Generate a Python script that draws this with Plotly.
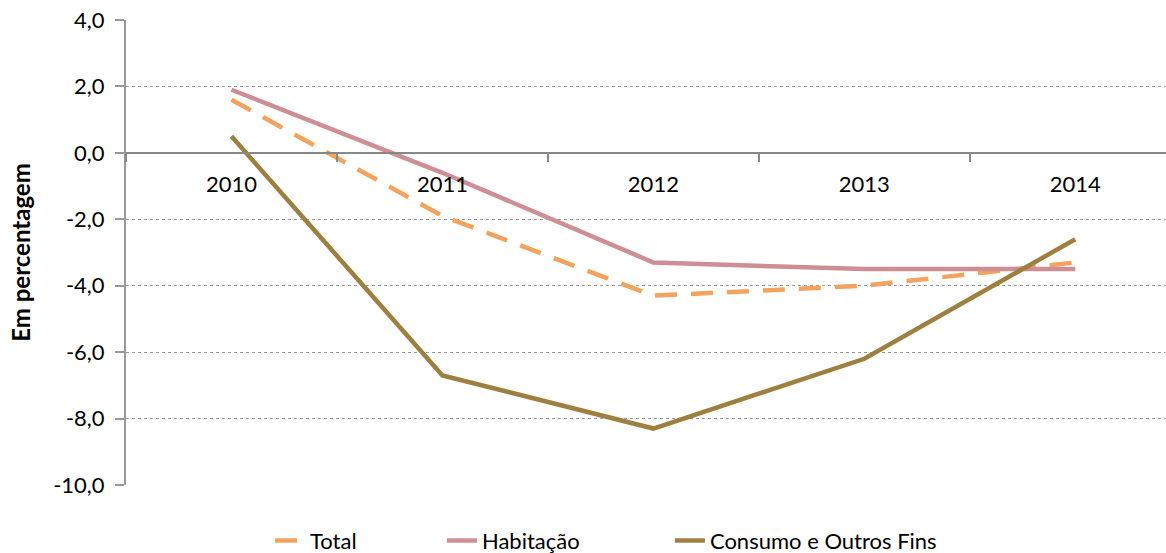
import plotly.graph_objects as go

years = ["2010", "2011", "2012", "2013", "2014"]
total = [1.6, -1.9, -4.3, -4.0, -3.3]
habitacao = [1.9, -0.6, -3.3, -3.5, -3.5]
consumo = [0.5, -6.7, -8.3, -6.2, -2.6]
y_ticks = [4, 2, 0, -2, -4, -6, -8, -10]
y_tick_labels = ["4,0", "2,0", "0,0", "-2,0", "-4,0", "-6,0", "-8,0", "-10,0"]

fig = go.Figure()
fig.add_trace(go.Scatter(x=years, y=total, name="Total", mode="lines", legend="legend",
                         line=dict(color="#F2A35E", width=4.5, dash="22px,14px")))
fig.add_trace(go.Scatter(x=years, y=habitacao, name="Habitação", mode="lines", legend="legend2",
                         line=dict(color="#CF8E93", width=4.5)))
fig.add_trace(go.Scatter(x=years, y=consumo, name="Consumo e Outros Fins", mode="lines", legend="legend3",
                         line=dict(color="#9E7F3F", width=4.5)))

ymin, ymax = -10, 4
zero_pos = (0 - ymin) / (ymax - ymin)

leg_common = dict(orientation="h", xanchor="left", y=-0.12, yanchor="middle",
                  font=dict(size=22), bgcolor="rgba(0,0,0,0)")

fig.update_layout(
    width=1166, height=553,
    margin=dict(l=126, r=0, t=20, b=68, autoexpand=False),
    paper_bgcolor="white", plot_bgcolor="white",
    font=dict(family="Lato, Open Sans, sans-serif", size=22, color="black"),
    showlegend=True,
    legend=dict(x=0.1385, **leg_common),
    legend2=dict(x=0.3038, **leg_common),
    legend3=dict(x=0.523, **leg_common),
    xaxis=dict(type="category", range=[-0.5, 4.43], anchor="free", position=zero_pos,
               showline=True, linecolor="#888888", linewidth=2,
               ticks="outside", tickson="boundaries", ticklen=8, tickcolor="#888888", tickwidth=2,
               showgrid=False, zeroline=False, ticklabelstandoff=12, automargin=False,
               tickfont=dict(size=22)),
    yaxis=dict(range=[ymin, ymax], tickvals=y_ticks, ticktext=y_tick_labels,
               showline=True, linecolor="#999999", linewidth=2,
               ticks="outside", ticklen=9, tickcolor="#999999", tickwidth=2,
               showgrid=True, gridcolor="#999999", griddash="dot", gridwidth=1,
               zeroline=False, ticklabelstandoff=6, automargin=False,
               ticklabeloverflow="allow",
               title=dict(text="<b>Em percentagem</b>", font=dict(size=24), standoff=16),
               tickfont=dict(size=22)),
)

fig.write_html("out.html", config={"displayModeBar": False},
               post_script="document.body.style.margin='0';")
